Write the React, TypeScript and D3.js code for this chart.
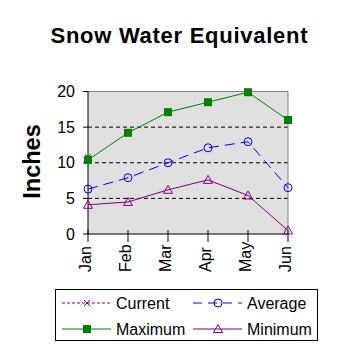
import React from "react";
import * as d3 from "d3";

const months = ["Jan", "Feb", "Mar", "Apr", "May", "Jun"];
const currentVals: (number | null)[] = [10.8, null, null, null, null, null];
const averageVals = [6.3, 7.9, 10.0, 12.1, 12.95, 6.5];
const maximumVals = [10.4, 14.2, 17.1, 18.5, 19.9, 16.0];
const minimumVals = [4.1, 4.5, 6.2, 7.6, 5.4, 0.5];
const yTicks = [0, 5, 10, 15, 20];
const gridVals = [5, 10, 15];

const FONT = "'Liberation Sans', Arial, sans-serif";
const PURPLE = "#800080";
const BLUE = "#0000ff";
const GREEN = "#008000";

const L = 88, R = 288, T = 91.5, B = 234;

export default function App() {
  const x = d3.scalePoint<string>().domain(months).range([L, R]);
  const y = d3.scaleLinear().domain([0, 20]).range([B, T]);

  const mk = (vals: (number | null)[]) =>
    d3
      .line<number | null>()
      .defined((d) => d !== null)
      .x((_, i) => x(months[i]) as number)
      .y((d) => y(d as number))(vals) || "";

  const sq = (cx: number, cy: number, key: string) => (
    <rect key={key} x={cx - 4} y={cy - 4} width={8} height={8} fill={GREEN} />
  );
  const circ = (cx: number, cy: number, key: string) => (
    <circle key={key} cx={cx} cy={cy} r={4} fill="none" stroke={BLUE} strokeWidth={1} />
  );
  const tri = (cx: number, cy: number, key: string) => (
    <path
      key={key}
      d={`M${cx},${cy - 4.5}L${cx + 4.5},${cy + 3.5}L${cx - 4.5},${cy + 3.5}Z`}
      fill="none"
      stroke={PURPLE}
      strokeWidth={1}
    />
  );
  const cross = (cx: number, cy: number, key: string) => (
    <path
      key={key}
      d={`M${cx - 3},${cy - 3}L${cx + 3},${cy + 3}M${cx - 3},${cy + 3}L${cx + 3},${cy - 3}`}
      stroke={PURPLE}
      strokeWidth={1}
    />
  );

  const legendRows = [
    { label: "Current", color: PURPLE, dash: "3,2", marker: cross, lx: 62, ly: 303 },
    { label: "Average", color: BLUE, dash: "9,6", marker: circ, lx: 193, ly: 303 },
    { label: "Maximum", color: GREEN, dash: "", marker: sq, lx: 62, ly: 329 },
    { label: "Minimum", color: PURPLE, dash: "", marker: tri, lx: 193, ly: 329 },
  ];

  return (
    <svg
      width={358}
      height={358}
      style={{ position: "absolute", left: 0, top: 0, background: "#fff" }}
      fontFamily={FONT}
    >
      <rect x={0} y={0} width={358} height={358} fill="#fff" />
      <text x={179} y={43} textAnchor="middle" fontSize={22} fontWeight="bold" textLength={257} lengthAdjust="spacing">
        Snow Water Equivalent
      </text>
      <text
        transform="translate(40,161.5) rotate(-90)"
        textAnchor="middle"
        fontSize={23.5}
        fontWeight="bold"
      >
        Inches
      </text>

      {/* plot area */}
      <rect x={L} y={T} width={R - L} height={B - T} fill="#e0e0e0" />
      {gridVals.map((v) => (
        <line key={v} x1={L} x2={R} y1={y(v)} y2={y(v)} stroke="#000" strokeDasharray="4,3" />
      ))}
      <path d={`M${L},${T}H${R}V${B}`} fill="none" stroke="#808080" strokeWidth={1} />
      <line x1={L} x2={L} y1={T} y2={B} stroke="#000" />
      <line x1={L} x2={R} y1={B} y2={B} stroke="#000" />

      {yTicks.map((v) => (
        <g key={v}>
          <line x1={83} x2={L} y1={y(v)} y2={y(v)} stroke="#000" />
          <text x={75} y={y(v)} dy="0.35em" textAnchor="end" fontSize={16}>
            {v}
          </text>
        </g>
      ))}
      {months.map((m) => {
        const px = x(m) as number;
        return (
          <g key={m}>
            <line x1={px} x2={px} y1={B - 4} y2={B + 8} stroke="#000" />
            <text transform={`translate(${px + 3},272) rotate(-90)`} fontSize={16}>
              {m}
            </text>
          </g>
        );
      })}

      {/* series */}
      <path d={mk(maximumVals)} fill="none" stroke={GREEN} strokeWidth={1} />
      <path d={mk(averageVals)} fill="none" stroke={BLUE} strokeWidth={1} strokeDasharray="10,6" />
      <path d={mk(minimumVals)} fill="none" stroke={PURPLE} strokeWidth={1} />
      <path d={mk(currentVals)} fill="none" stroke={PURPLE} strokeWidth={1} strokeDasharray="3,2" />
      {currentVals.map((v, i) => (v === null ? null : cross(x(months[i]) as number, y(v), "c" + i)))}
      {averageVals.map((v, i) => circ(x(months[i]) as number, y(v), "a" + i))}
      {minimumVals.map((v, i) => tri(x(months[i]) as number, y(v), "n" + i))}
      {maximumVals.map((v, i) => sq(x(months[i]) as number, y(v), "m" + i))}

      {/* legend */}
      <rect x={55.5} y={289.5} width={262} height={51} fill="#fff" stroke="#000" strokeWidth={1} />
      {legendRows.map((r) => (
        <g key={r.label}>
          <line
            x1={r.lx}
            x2={r.lx + 49}
            y1={r.ly}
            y2={r.ly}
            stroke={r.color}
            strokeDasharray={r.dash || undefined}
          />
          {r.marker(r.lx + 25, r.ly, "lm" + r.label)}
          <text x={r.lx + 54} y={r.ly} dy="0.35em" fontSize={16}>
            {r.label}
          </text>
        </g>
      ))}
    </svg>
  );
}
